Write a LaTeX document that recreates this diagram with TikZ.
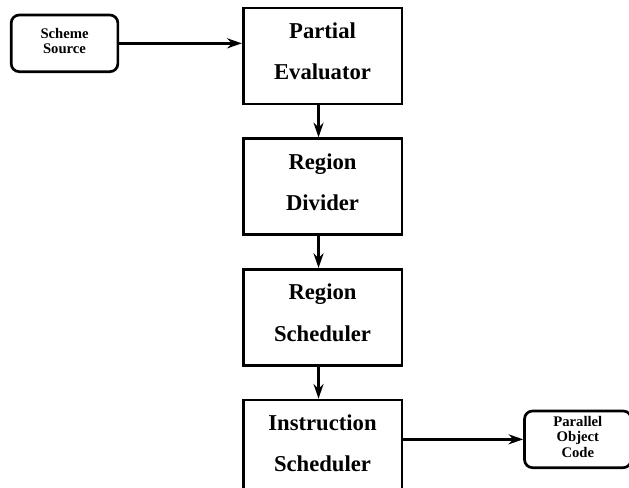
\documentclass[tikz,border=0pt]{standalone}
\usepackage{fontspec}
\setmainfont{Liberation Serif}
\usetikzlibrary{positioning}
\usetikzlibrary{arrows.meta}
\tikzset{
    stagenode/.style = {rectangle, line width=2pt, draw=black, align=center, fill=white, minimum width=119pt, minimum height=72pt, text depth=7pt, font=\bfseries\fontsize{17}{31}\selectfont, text=black},
    ionode/.style = {rectangle, rounded corners=6pt, line width=2pt, draw=black, align=center, fill=white, minimum width=80pt, minimum height=42.5pt, text depth=4pt, font=\bfseries\fontsize{11}{11.5}\selectfont, text=black},
    edgen/.style = {-{Stealth[length=11pt,width=7.5pt]}, line width=2pt, black}, % flow
}

\begin{document}
\begin{tikzpicture}[node distance=24pt]
  \useasboundingbox (0,0) rectangle (471.75pt,-365.25pt);
  \node[stagenode] (pe) at (241.9pt,-42pt) {Partial\\Evaluator};
  \node[stagenode, below=of pe] (rd) {Region\\Divider};
  \node[stagenode, below=of rd] (rs) {Region\\Scheduler};
  \node[stagenode, below=of rs] (is) {Instruction\\Scheduler};
  \node[ionode, left=92pt of pe, yshift=9.5pt] (src) {Scheme\\Source};
  \node[ionode, right=90pt of is, yshift=6.5pt] (poc) {Parallel\\Object\\Code};
  \draw[edgen] (src.east) -- (src.east -| pe.west);
  \draw[edgen] ([xshift=-3pt]pe.south) -- ([xshift=-3pt]rd.north);
  \draw[edgen] ([xshift=-3pt]rd.south) -- ([xshift=-3pt]rs.north);
  \draw[edgen] ([xshift=-3pt]rs.south) -- ([xshift=-3pt]is.north);
  \draw[edgen] (poc.west -| is.east) -- (poc.west);
\end{tikzpicture}
\end{document}
